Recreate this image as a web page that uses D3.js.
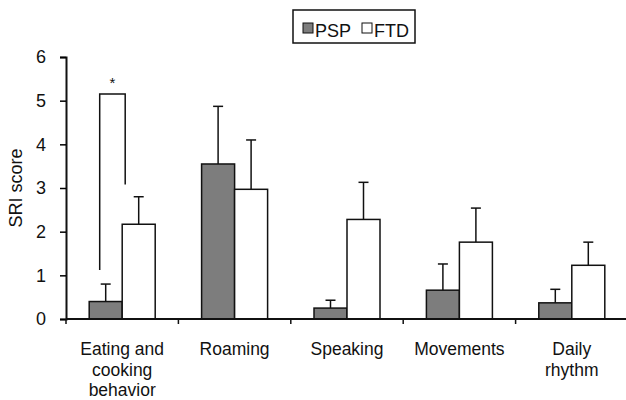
<!DOCTYPE html>
<html>
<head>
<meta charset="utf-8">
<script src="https://cdn.jsdelivr.net/npm/d3@7"></script>
<style>
  body { margin: 0; background: #fff; }
  text { font-family: Arial, "Liberation Sans", sans-serif; }
</style>
</head>
<body>
<svg id="canvas" width="626" height="400"></svg>
<script>
let categories = ['Eating and\ncooking\nbehavior', 'Roaming', 'Speaking', 'Movements', 'Daily\nrhythm']
let series = ['PSP', 'FTD']
let pspMean = [0.4, 3.55, 0.25, 0.66, 0.37]
let pspErr = [0.8, 4.87, 0.43, 1.26, 0.68]
let ftdMean = [2.17, 2.97, 2.28, 1.76, 1.23]
let ftdErr = [2.8, 4.1, 3.13, 2.54, 1.76]
let yTicks = [0, 1, 2, 3, 4, 5, 6]
// significance bracket on eating: left foot, top, right foot
let bracket = [1.12, 5.15, 3.08]

let svg = d3.select('#canvas')
let mLeft = 66, mRight = 628, mTop = 57, mBottom = 319

let x = d3.scaleBand().domain(categories).range([mLeft, mRight])
let xs = d3.scaleBand().domain(series).range([0, 66])
let y = d3.scaleLinear().domain([0, 6]).range([mBottom, mTop])

let colors = { PSP: '#7d7d7d', FTD: '#ffffff' }

let rows = categories.map((c, i) => [
  { cat: c, s: 'PSP', v: pspMean[i], e: pspErr[i] },
  { cat: c, s: 'FTD', v: ftdMean[i], e: ftdErr[i] }
]).flat()

let off = (x.bandwidth() - 66) / 2

// error bars (upper only)
let eb = svg.append('g').attr('stroke', '#111').attr('stroke-width', 1.5)
rows.forEach(d => {
  let cx = x(d.cat) + off + xs(d.s) + xs.bandwidth() / 2
  eb.append('line').attr('x1', cx).attr('x2', cx).attr('y1', y(d.v)).attr('y2', y(d.e))
  eb.append('line').attr('x1', cx - 5).attr('x2', cx + 5).attr('y1', y(d.e)).attr('y2', y(d.e))
})

svg.append('g').selectAll('rect')
   .data(rows)
   .enter()
   .append('rect')
   .attr('x', d => x(d.cat) + off + xs(d.s))
   .attr('width', xs.bandwidth())
   .attr('y', d => y(d.v))
   .attr('height', d => y(0) - y(d.v))
   .attr('fill', d => colors[d.s])
   .attr('stroke', '#111')
   .attr('stroke-width', 1.5)

// y axis
let yAxis = svg.append('g')
   .attr('transform', `translate(${mLeft},0)`)
   .call(d3.axisLeft(y).tickValues(yTicks).tickSize(6).tickPadding(14).tickFormat(d3.format('d')))
yAxis.select('.domain').attr('stroke-width', 2).attr('stroke', '#111')
yAxis.selectAll('.tick line').attr('stroke-width', 1.5)
yAxis.selectAll('text').attr('font-size', 18).attr('fill', '#111')

// x axis baseline with ticks between groups
let xAxis = svg.append('g').attr('transform', `translate(0,${mBottom})`)
xAxis.append('line').attr('x1', mLeft).attr('x2', mRight).attr('stroke', '#111').attr('stroke-width', 2)
categories.forEach(c => {
  xAxis.append('line').attr('x1', x(c)).attr('x2', x(c)).attr('y1', 0).attr('y2', 5)
    .attr('stroke', '#111').attr('stroke-width', 1.5)
})

// category labels
categories.forEach(c => {
  let t = svg.append('text')
    .attr('text-anchor', 'middle')
    .attr('font-size', 17.5)
    .attr('fill', '#111')
    .attr('y', 355)
  c.split('\n').forEach((line, i) => {
    t.append('tspan').attr('x', x(c) + x.bandwidth() / 2).attr('dy', i ? 20.5 : 0).text(line)
  })
})

// y label
svg.append('text')
   .attr('transform', `translate(22,188) rotate(-90)`)
   .attr('text-anchor', 'middle')
   .attr('font-size', 18)
   .attr('fill', '#111')
   .text('SRI score')

// significance bracket
let bx0 = x(categories[0]) + off + xs('PSP') + xs.bandwidth() / 2 - 6
let bx1 = x(categories[0]) + off + xs('FTD') + 3
svg.append('path')
   .attr('d', `M${bx0},${y(bracket[0])}V${y(bracket[1])}H${bx1}V${y(bracket[2])}`)
   .attr('fill', 'none').attr('stroke', '#111').attr('stroke-width', 1.5)
svg.append('text')
   .attr('x', (bx0 + bx1) / 2).attr('y', y(bracket[1]) - 6)
   .attr('text-anchor', 'middle').attr('font-size', 15).attr('fill', '#111')
   .text('*')

// legend
let lg = svg.append('g').attr('transform', 'translate(293,10)')
lg.append('rect').attr('width', 122).attr('height', 33).attr('fill', '#fff')
  .attr('stroke', '#111').attr('stroke-width', 1.5)
let lx = [10, 69]
series.forEach((s, i) => {
  lg.append('rect').attr('x', lx[i]).attr('y', 13).attr('width', 10).attr('height', 10)
    .attr('fill', colors[s]).attr('stroke', '#111').attr('stroke-width', 1)
  lg.append('text').attr('x', lx[i] + 12).attr('y', 27).attr('font-size', 18)
    .attr('fill', '#111').text(s)
})
</script>
</body>
</html>
